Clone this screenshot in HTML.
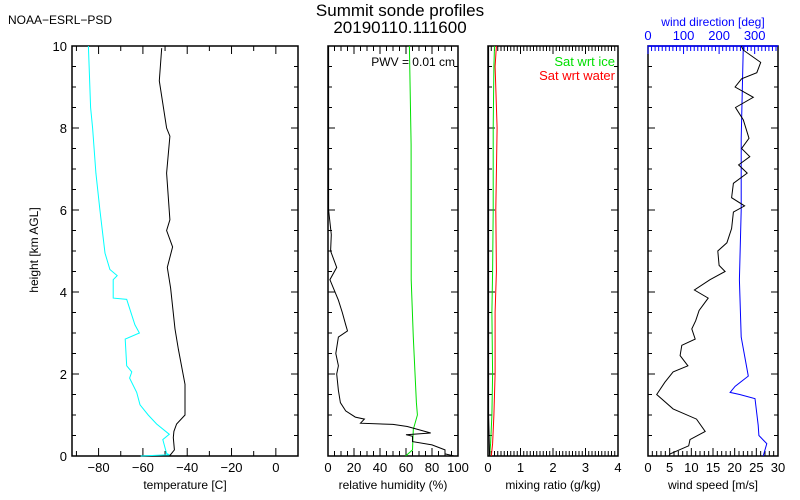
<!DOCTYPE html>
<html><head><meta charset="utf-8"><style>
body{margin:0;background:#fff}
svg{display:block;font-family:"Liberation Sans",sans-serif}
</style></head><body>
<svg id="c" width="800" height="500"></svg>
<script>
// Temperature panel
const tHeights=[0,0.15,0.45,0.6,0.78,1.0,1.75,2.6,3.1,4.1,4.6,5.1,5.5,5.76,6.9,7.8,8.0,9.15,9.95];
const tempC=[-48,-45.8,-46.3,-46,-44.8,-41,-41,-44,-45.5,-47.5,-49,-46.6,-49.3,-47.8,-49.3,-47.8,-49.3,-52.6,-51.5];
const dHeights=[0,0.03,0.06,0.4,0.53,0.78,1.0,1.25,1.55,1.9,2.05,2.2,2.85,3.0,3.2,3.82,3.85,4.3,4.4,4.55,4.95,6.0,6.9,8.0,8.5,10];
const dewC=[-61,-48,-49.3,-51,-48.1,-53.8,-57.6,-61.3,-62.8,-66,-65,-67.3,-68,-61.6,-63.6,-67.3,-73.4,-73.4,-71.6,-74.9,-77.1,-79.4,-81.2,-82.7,-83.6,-84.6];
// RH panel
const rhHeights=[0,0.05,0.15,0.27,0.35,0.48,0.52,0.56,0.72,0.77,0.8,0.9,0.95,1.1,1.3,1.6,2.0,2.2,2.5,2.9,3.05,3.2,3.5,3.8,4.3,4.6,5.0,5.4,6,10];
const rhW=[97,90,90,80,65,65,60,79,61,50,25,28,21,13.6,9.5,8,6.7,8,6,8,15,13.6,11,8,1.5,6.7,2,2.5,0.5,0.5];
const rhiHeights=[0,0.15,0.65,1.0,1.3,2.9,4.3,7.6,10];
const rhI=[59.7,65,65.6,68.8,68,65.6,64,63.9,62.6];
// Mixing ratio panel
const mrHeights=[0,0.3,1,2,3.5,4.5,6,8,9.5,10];
const mrWater=[0.1,0.14,0.18,0.22,0.22,0.26,0.24,0.28,0.22,0.26];
const mrIce=[0.05,0.08,0.12,0.14,0.12,0.14,0.16,0.16,0.18,0.2];
const mrObs=[0.05,0.04,0.02,0.02,0.02,0.02,0.02,0.02,0.02,0.02];
// Wind panel
const wsHeights=[0,0.05,0.25,0.4,0.6,0.9,1.15,1.5,1.8,2.05,2.2,2.45,2.7,2.85,3.1,3.3,3.55,3.85,4.05,4.3,4.5,4.65,5.0,5.2,5.55,5.95,6.1,6.3,6.65,6.9,7.1,7.3,7.5,7.75,8.2,8.5,8.75,9.0,9.2,9.35,9.6,9.9,10];
const wsMs=[4.8,5.1,9.4,9.7,13.2,11.2,5.8,2.0,3.9,5.8,9.2,7.4,7.8,10.9,10.1,11.0,11.8,13.9,10.7,14.3,17.8,16.4,16.1,18.2,19.3,19.7,22.3,19.3,19.7,22.9,20.9,23.5,21.6,23.3,22,20.2,24.3,20.1,21.6,25.1,26.0,22.0,21.5];
const wdHeights=[0,0.3,0.5,0.75,1.4,1.5,1.55,1.7,1.95,2.9,4.3,6.0,7.75,10];
const wdDeg=[324,334,312,310,301,258,231,245,282,262,257,262,262,268];

const svg=document.getElementById('c');
const NS='http://www.w3.org/2000/svg';
const Y0=456,Y1=46;
const yS=h=>Y0-(h/10)*(Y0-Y1);
function mk(tag,attrs,name,parent){const e=document.createElementNS(NS,tag);for(const k in attrs)e.setAttribute(k,attrs[k]);


(parent||svg).appendChild(e);return e;}
function txt(x,y,s,size,anchor,fill,name,extra){const t=mk('text',Object.assign({x:x,y:y,'font-size':size,'text-anchor':anchor,fill:fill},extra||{}),name);t.textContent=s;return t;}
function line(pts,color,name,w){const d=pts.map((p,i)=>(i?'L':'M')+p[0].toFixed(1)+' '+p[1].toFixed(1)).join('');mk('path',{d:d,fill:'none',stroke:color,'stroke-width':w||1},name);}

function panel(x0,x1,xmin,xmax,minor,major,labels,xlabel,name,showY){
  const xs=v=>x0+(v-xmin)/(xmax-xmin)*(x1-x0);
  mk('rect',{x:x0,y:Y1,width:x1-x0,height:Y0-Y1,fill:'none',stroke:'#000','stroke-width':1.5},name+'-frame');
  for(let h=0;h<=10.001;h+=0.5){const maj=Math.abs(h/2-Math.round(h/2))<1e-6;const L=maj?7:4;const y=yS(h);
    mk('line',{x1:x0,y1:y,x2:x0+L,y2:y,stroke:'#000'},name+'-ytick');
    mk('line',{x1:x1,y1:y,x2:x1-L,y2:y,stroke:'#000'},name+'-ytick');
    if(showY&&maj)txt(x0-5,y+5,String(Math.round(h)),13,'end','#000','y-tick-label');}
  for(let v=Math.ceil(xmin/minor)*minor;v<=xmax+1e-6;v+=minor){const maj=Math.abs(v/major-Math.round(v/major))<1e-6;const L=maj?8:5;const x=xs(v);
    mk('line',{x1:x,y1:Y0,x2:x,y2:Y0-L,stroke:'#000'},name+'-xtick');
    if(name!=='wind-panel')mk('line',{x1:x,y1:Y1,x2:x,y2:Y1+L,stroke:'#000'},name+'-xtick');}
  labels.forEach(v=>txt(xs(v),472,String(v).replace('-','\u2212'),13,'middle','#000','x-tick-label'));
  txt((x0+x1)/2,489,xlabel,12,'middle','#000',name+'-x-title');
  return xs;
}
txt(8,24,'NOAA\u2212ESRL\u2212PSD',12,'start','#000','org-label');
txt(400,16,'Summit sonde profiles',17,'middle','#000','chart-title');
txt(400,33,'20190110.111600',17,'middle','#000','chart-subtitle');
txt(38,250,'height [km AGL]',12,'middle','#000','y-axis-title',{transform:'rotate(-90 38 250)'});

const xT=panel(72,298,-92,10,10,20,[-80,-60,-40,-20,0],'temperature [C]','temp-panel',true);
line(dHeights.map((h,i)=>[xT(dewC[i]),yS(h)]),'#00ffff','dewpoint-line');
line(tHeights.map((h,i)=>[xT(tempC[i]),yS(h)]),'#000','temperature-line');

const xR=panel(328,458,0,100,5,20,[0,20,40,60,80,100],'relative humidity (%)','rh-panel',false);
line(rhiHeights.map((h,i)=>[xR(rhI[i]),yS(h)]),'#00e000','rh-ice-line');
line(rhHeights.map((h,i)=>[xR(rhW[i]),yS(h)]),'#000','rh-line');
txt(455,66,'PWV = 0.01 cm',12,'end','#000','pwv-label');

const xM=panel(488,618,0,4,0.1,1,[0,1,2,3,4],'mixing ratio (g/kg)','mr-panel',false);
line(mrHeights.map((h,i)=>[xM(mrWater[i]),yS(h)]),'#ff0000','sat-water-line');
line(mrHeights.map((h,i)=>[xM(mrIce[i]),yS(h)]),'#00e000','sat-ice-line');
line(mrHeights.map((h,i)=>[xM(mrObs[i]),yS(h)]),'#000','mixing-ratio-line');
txt(615,66,'Sat wrt ice',13,'end','#00e000','legend-sat-ice');
txt(615,80,'Sat wrt water',13,'end','#ff0000','legend-sat-water');

const xW=panel(648,778,0,30,1,5,[0,5,10,15,20,25,30],'wind speed [m/s]','wind-panel',false);
const xD=v=>648+v/360*128;
mk('line',{x1:648,y1:Y1,x2:778,y2:Y1,stroke:'#0000ff','stroke-width':1.5},'direction-axis');
for(let v=0;v<=360;v+=10){const maj=v%100===0;const L=maj?8:5;
  mk('line',{x1:xD(v),y1:Y1,x2:xD(v),y2:Y1+L,stroke:'#0000ff'},'direction-tick');}
[0,100,200,300].forEach(v=>txt(xD(v),40,String(v),13,'middle','#0000ff','direction-tick-label'));
txt(713,26,'wind direction [deg]',12,'middle','#0000ff','direction-axis-title');
line(wdHeights.map((h,i)=>[xD(wdDeg[i]),yS(h)]),'#0000ff','wind-direction-line');
line(wsHeights.map((h,i)=>[xW(wsMs[i]),yS(h)]),'#000','wind-speed-line');
</script>
</body></html>
